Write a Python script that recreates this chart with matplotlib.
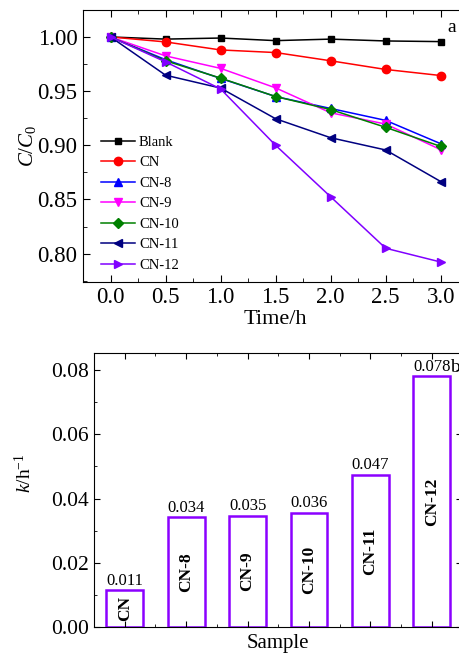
import matplotlib
matplotlib.use("Agg")
import matplotlib.pyplot as plt
from matplotlib.ticker import MultipleLocator, FixedLocator, FormatStrFormatter
from matplotlib.transforms import IdentityTransform

plt.rcParams['font.family'] = ['Liberation Serif', 'DejaVu Serif']
plt.rcParams['mathtext.fontset'] = 'custom'
plt.rcParams['mathtext.rm'] = 'Liberation Serif'
plt.rcParams['mathtext.it'] = 'Liberation Serif:italic'

# ---- data ----
time_h = [0.0, 0.5, 1.0, 1.5, 2.0, 2.5, 3.0]
series_names = ["Blank", "CN", "CN-8", "CN-9", "CN-10", "CN-11", "CN-12"]
blank = [1.000, 0.998, 0.999, 0.9966, 0.998, 0.9963, 0.9957]
cn = [1.000, 0.9954, 0.988, 0.9856, 0.978, 0.970, 0.9644]
cn8 = [1.000, 0.979, 0.9617, 0.945, 0.934, 0.923, 0.9015]
cn9 = [1.000, 0.9825, 0.971, 0.953, 0.930, 0.9196, 0.896]
cn10 = [1.000, 0.978, 0.962, 0.945, 0.933, 0.9166, 0.899]
cn11 = [1.000, 0.9647, 0.9528, 0.9245, 0.907, 0.8957, 0.8666]
cn12 = [1.000, 0.977, 0.952, 0.900, 0.8525, 0.805, 0.7923]

samples = ["CN", "CN-8", "CN-9", "CN-10", "CN-11", "CN-12"]
k_values = [0.0115, 0.0343, 0.0347, 0.0356, 0.0474, 0.0780]
k_labels = ["0.011", "0.034", "0.035", "0.036", "0.047", "0.078"]

colors = ["black", "#ff0000", "#0000ff", "#ff00ff", "#008000", "#000080", "#8000ff"]
markers = ["s", "o", "^", "v", "D", "<", ">"]
msizes = [5, 6, 6, 6, 5, 6, 6]

fig = plt.figure(figsize=(4.59, 6.57), dpi=100)

# ---- panel a ----
ax1 = fig.add_axes([0.181, 0.571, 0.839, 0.414])
all_series = [blank, cn, cn8, cn9, cn10, cn11, cn12]
for name, ys, c, m, ms in zip(series_names, all_series, colors, markers, msizes):
    ax1.plot(time_h, ys, color=c, marker=m, markersize=ms, linewidth=1.1, label=name)
ax1.set_xlim(-0.25, 3.25)
ax1.set_ylim(0.774, 1.025)
ax1.xaxis.set_major_locator(MultipleLocator(0.5))
ax1.xaxis.set_minor_locator(MultipleLocator(0.25))
ax1.yaxis.set_major_locator(MultipleLocator(0.05))
ax1.yaxis.set_minor_locator(MultipleLocator(0.025))
ax1.xaxis.set_major_formatter(FormatStrFormatter('%.1f'))
ax1.yaxis.set_major_formatter(FormatStrFormatter('%.2f'))
ax1.tick_params(which='both', direction='in', top=True, right=True, labelsize=16.5)
ax1.tick_params(which='major', length=5, pad=4)
ax1.tick_params(which='minor', length=3)
ax1.set_xlabel("Time/h", fontsize=16, labelpad=1)
ax1.set_ylabel(r"$\mathit{C}/\mathit{C}_0$", fontsize=15, labelpad=0)
ax1.legend(loc='lower left', bbox_to_anchor=(0.02, 0.0), frameon=False, fontsize=10.5,
           handlelength=2.3, handletextpad=0.3, labelspacing=0.5, borderaxespad=0.3)
at = ax1.text(452, 657 - 27, "a", fontsize=14, ha='center', va='center')
at.set_transform(IdentityTransform())

# ---- panel b ----
ax2 = fig.add_axes([0.205, 0.0457, 0.8025, 0.417])
xpos = list(range(len(samples)))
ax2.bar(xpos, k_values, width=0.6, facecolor='white', edgecolor='#8b00ff', linewidth=1.8)
for x, v, lab, name in zip(xpos, k_values, k_labels, samples):
    ax2.text(x, v + 0.0004, lab, ha='center', va='bottom', fontsize=12)
    ax2.text(x, v / 2, name, ha='center', va='center', rotation=90,
             fontsize=12.5, fontweight='bold')
ax2.set_xlim(-0.5, 5.5)
ax2.set_ylim(0, 0.0853)
ax2.xaxis.set_major_locator(FixedLocator(xpos))
ax2.xaxis.set_minor_locator(FixedLocator([x + 0.5 for x in xpos]))
ax2.set_xticklabels([])
ax2.yaxis.set_major_locator(MultipleLocator(0.02))
ax2.yaxis.set_minor_locator(MultipleLocator(0.01))
ax2.yaxis.set_major_formatter(FormatStrFormatter('%.2f'))
ax2.tick_params(which='both', direction='in', top=True, right=True, labelsize=15.5)
ax2.tick_params(which='major', length=4, pad=4)
ax2.tick_params(which='minor', length=2.5)
ax2.set_xlabel("Sample", fontsize=15, labelpad=1)
ax2.set_ylabel(r"$\mathit{k}$/h$^{-1}$", fontsize=14, labelpad=2)
ax2.yaxis.set_label_coords(-0.16, 0.56)
bt = ax2.text(455, 657 - 367, "b", fontsize=14, ha='center', va='center')
bt.set_transform(IdentityTransform())

fig.savefig("out.png", dpi=100)
